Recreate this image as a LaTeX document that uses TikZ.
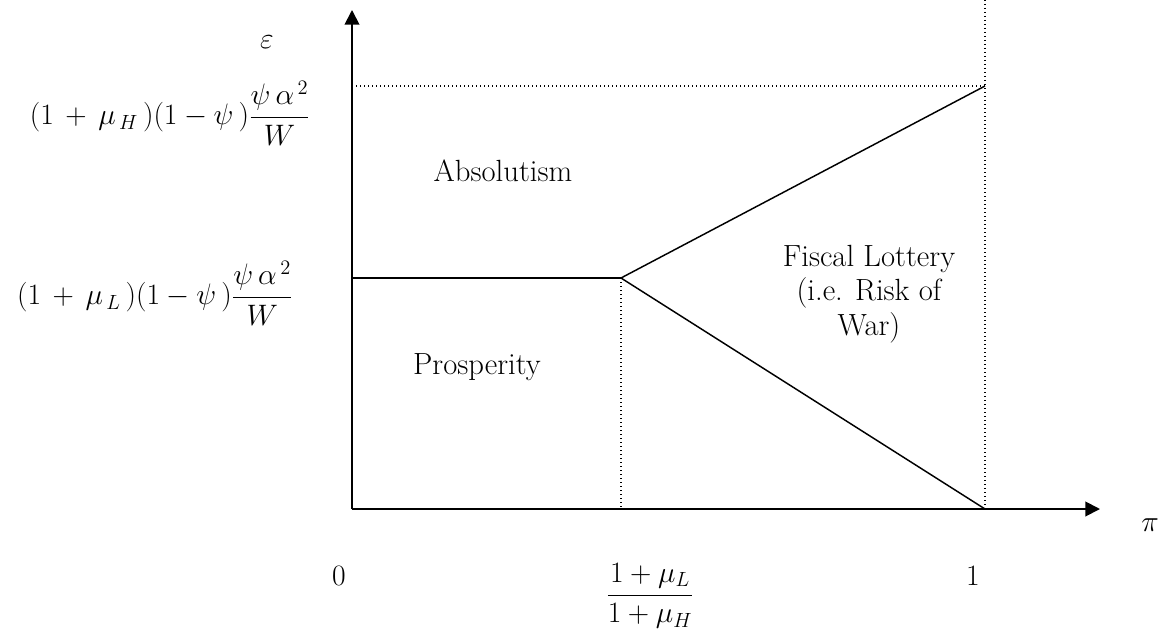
\documentclass[tikz,border=0pt]{standalone}
\usepackage{amsmath}
\usepackage{graphicx}
\usetikzlibrary{arrows.meta}
\newcommand{\mylblscale}[1]{\scalebox{1.07}{#1}}
\begin{document}
\begin{tikzpicture}[x=0.75pt,y=-0.75pt,
  axis/.style={line width=1.4pt,-{Triangle[length=11pt,width=11pt]}},
  solidline/.style={line width=1.1pt},
  dotline/.style={line width=0.9pt,dash pattern=on 0.9pt off 2.1pt},
  lbl/.style={inner sep=0pt,font=\fontsize{23}{26}\selectfont},
  mlbl/.style={inner sep=0pt,font=\fontsize{20.74}{25}\selectfont}]
\useasboundingbox (0,0) rectangle (1166,635);
\coordinate (O) at (352,509);
\coordinate (ytop) at (352,10);
\coordinate (xend) at (1100,509);
\coordinate (J) at (621,278);
\coordinate (Jb) at (621,509);
\coordinate (R) at (985,86);
\coordinate (Rb) at (985,509);
\coordinate (Rt) at (985,0);
\coordinate (L) at (352,86);
\coordinate (M) at (352,278);
% lines
\draw[dotline] (L) -- (R);
\draw[dotline] (Rt) -- (Rb);
\draw[dotline] (J) -- (Jb);
\draw[solidline] (M) -- (J);
\draw[solidline] (J) -- (R);
\draw[solidline] (J) -- (Rb);
\draw[axis] (O) -- (ytop);
\draw[axis] (O) -- (xend);
% labels
\node[mlbl] (eps) at (267,42) {\mylblscale{$\varepsilon$}};
\node[mlbl] (pi) at (1150,525) {\mylblscale{$\pi$}};
\node[mlbl] (zero) at (339,576) {\mylblscale{$0$}};
\node[mlbl] (one) at (973,576) {\mylblscale{$1$}};
\node[mlbl] (frac) at (650,596) {\mylblscale{$\dfrac{1+\mu_L}{1+\mu_H}$}};
\node[mlbl] (hi) at (170,113) {\mylblscale{$(1\,+\,\mu_{\,H}\,)(1-\psi\,)\dfrac{\psi\,\alpha^{\,2}}{W}$}};
\node[mlbl] (lo) at (155,293) {\mylblscale{$(1\,+\,\mu_{\,L}\,)(1-\psi\,)\dfrac{\psi\,\alpha^{\,2}}{W}$}};
\node[lbl] (abs) at (503,171) {Absolutism};
\node[lbl] (pros) at (477,367) {Prosperity};
\node[lbl,align=center] (fisc) at (869,294) {Fiscal Lottery\\(i.e. Risk of\\War)};
\end{tikzpicture}
\end{document}
